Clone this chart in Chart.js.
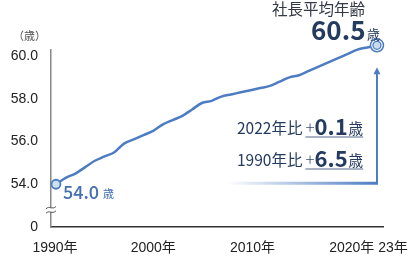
<!DOCTYPE html>
<html><head><meta charset="utf-8">
<script src="https://cdn.jsdelivr.net/npm/chart.js@4"></script>
<style>html,body{margin:0;padding:0;background:#fff;overflow:hidden;}#wrap{width:412px;height:258px;position:relative;}</style>
</head><body><div id="wrap"><canvas id="c" width="412" height="258" style="width:412px;height:258px;display:block"></canvas></div>
<script>
const years = [1990,1991,1992,1993,1994,1995,1996,1997,1998,1999,2000,2001,2002,2003,2004,2005,2006,2007,2008,2009,2010,2011,2012,2013,2014,2015,2016,2017,2018,2019,2020,2021,2022,2023];
const avgAge = [54.0,54.3,54.5,54.8,55.1,55.3,55.5,55.9,56.1,56.3,56.5,56.8,57.0,57.2,57.5,57.8,57.9,58.1,58.2,58.3,58.4,58.5,58.6,58.8,59.0,59.1,59.3,59.5,59.7,59.9,60.1,60.3,60.4,60.5];
const yTickValues = [52,54,56,58,60];
const yTickLabels = ['0','54.0','56.0','58.0','60.0'];
const xTickValues = [1990,2000,2010,2020,2023];
const xTickLabels = ['1990年','2000年','2010年','2020年','23年'];
const yUnit = '（歳）';
const titleText = '社長平均年齢';
const lastValueText = '60.5';
const firstValueText = '54.0';
const ageUnit = '歳';
const compareRows = [['2022年比','+','0.1'],['1990年比','+','6.5']];

const FONT = '"Noto Sans CJK JP","Noto Sans",sans-serif';
const AXFONT = '"Liberation Sans","Noto Sans CJK JP",sans-serif';
const BLUE = '#4d7cc3';
const NAVY = '#243a5e';

const deco = {
  id:'deco',
  afterDatasetsDraw(chart){
    const c = chart.ctx, xs = chart.scales.x, ys = chart.scales.y;
    const n = years.length;
    const lx = xs.getPixelForValue(years[n-1]), ly = ys.getPixelForValue(avgAge[n-1]);
    const fx = xs.getPixelForValue(years[0]), fy = ys.getPixelForValue(avgAge[0]);
    c.save();
    // arrow + box
    const boxBottom = ys.getPixelForValue(54.05);
    c.strokeStyle = BLUE; c.lineWidth = 2;
    c.beginPath(); c.moveTo(lx, boxBottom); c.lineTo(lx, ly+26); c.stroke();
    c.fillStyle = BLUE;
    c.beginPath(); c.moveTo(lx, ly+22); c.lineTo(lx-3.5, ly+29); c.lineTo(lx+3.5, ly+29); c.closePath(); c.fill();
    const g = c.createLinearGradient(lx-150,0,lx,0);
    g.addColorStop(0,'rgba(77,124,195,0)'); g.addColorStop(1,BLUE);
    c.strokeStyle = g; c.lineWidth = 3;
    c.beginPath(); c.moveTo(lx-150, boxBottom); c.lineTo(lx+1, boxBottom); c.stroke();
    // last point double ring
    c.beginPath(); c.arc(lx, ly, 6.5, 0, Math.PI*2); c.fillStyle='#fff'; c.fill();
    c.lineWidth=1.5; c.strokeStyle=BLUE; c.stroke();
    c.beginPath(); c.arc(lx, ly, 4, 0, Math.PI*2); c.fillStyle='#c9dbf2'; c.fill();
    c.lineWidth=1.3; c.strokeStyle=BLUE; c.stroke();
    // title
    c.textBaseline='alphabetic'; c.textAlign='left';
    c.fillStyle='#333a46'; c.font='15.5px '+FONT;
    c.fillText(titleText, 272, 15);
    c.fillStyle=NAVY; c.font='bold 26px '+FONT;
    c.fillText(lastValueText, 311, 40);
    c.font='13px '+FONT; c.fillText(ageUnit, 367, 39);
    // first label
    c.fillStyle='#4470b2'; c.font='500 18px '+FONT;
    c.fillText(firstValueText, fx+7, fy+15);
    let w = c.measureText(firstValueText).width;
    c.font='11px '+FONT; c.fillText(ageUnit, fx+7+w+4, fy+14);
    // compare rows
    const baselines = [134, 166];
    compareRows.forEach((r,i)=>{
      const b = baselines[i];
      let x = 237;
      c.fillStyle=NAVY; c.font='15.5px '+FONT;
      c.fillText(r[0], x, b); x += c.measureText(r[0]).width + 3;
      const ux = x;
      c.font='300 17px '+FONT; c.fillStyle='#3c4c6c';
      c.fillText(r[1], x, b); x += c.measureText(r[1]).width;
      c.font='bold 22px '+FONT; c.fillStyle=NAVY;
      c.fillText(r[2], x, b+0.5); x += c.measureText(r[2]).width + 1;
      c.font='14.5px '+FONT; c.fillText(ageUnit, x, b); x += c.measureText(ageUnit).width;
      c.strokeStyle='#8c9ab2'; c.lineWidth=1.5;
      c.beginPath(); c.moveTo(ux, b+3); c.lineTo(x, b+3); c.stroke();
    });
    // y unit
    c.fillStyle='#555'; c.font='11px '+FONT; c.textBaseline='middle';
    c.fillText(yUnit, 13, 36);
    // x labels
    c.fillStyle='#222'; c.font='14px '+AXFONT; c.textAlign='center';
    const offs = [-1,0,2,4,16];
    xTickValues.forEach((v,i)=>{
      c.fillText(xTickLabels[i], xs.getPixelForValue(v)+offs[i], 248);
    });
    // axis break
    const ax = xs.left, by = ys.getPixelForValue(52.8);
    c.fillStyle='#fff'; c.fillRect(ax-1.5, by-2, 3, 4);
    c.strokeStyle='#555'; c.lineWidth=1;
    [-2.2, 2.2].forEach(d=>{
      c.beginPath();
      c.moveTo(ax-5, by+d+1.2);
      c.bezierCurveTo(ax-2, by+d-2.5, ax+1, by+d+2.5, ax+5, by+d-1.2);
      c.stroke();
    });
    c.restore();
  }
};

new Chart(document.getElementById('c'), {
  type:'line',
  data:{
    datasets:[{
      data: years.map((y,i)=>({x:y, y:avgAge[i]})),
      borderColor: BLUE, borderWidth: 2.5,
      cubicInterpolationMode:'monotone',
      clip: false,
      pointRadius: ctx => ctx.dataIndex===0 ? 4.5 : 0,
      pointBackgroundColor:'#cfe0f3', pointBorderColor: BLUE, pointBorderWidth: 1.8,
      pointHoverRadius:0
    }]
  },
  options:{
    responsive:false, maintainAspectRatio:false, animation:false, devicePixelRatio:1,
    layout:{padding:{top:50, right:29, left:0, bottom:0}},
    plugins:{legend:{display:false}, tooltip:{enabled:false}},
    events:[],
    scales:{
      x:{
        type:'linear', min:1989.49, max:2023.62,
        grid:{display:false, drawTicks:false},
        border:{display:true, color:'#333', width:1.5},
        ticks:{display:false},
        afterFit(s){ s.height = 31; }
      },
      y:{
        type:'linear', min:52, max:60.28,
        grid:{display:false, drawTicks:false},
        border:{display:true, color:'#888', width:1.5},
        afterBuildTicks(s){ s.ticks = yTickValues.map(v=>({value:v})); },
        ticks:{
          padding:13, color:'#222', font:{family:AXFONT, size:14},
          callback:(v)=>{ const i = yTickValues.indexOf(v); return i>=0 ? yTickLabels[i] : ''; }
        },
        afterFit(s){ s.width = 51; }
      }
    }
  },
  plugins:[deco]
});
</script>
</body></html>
